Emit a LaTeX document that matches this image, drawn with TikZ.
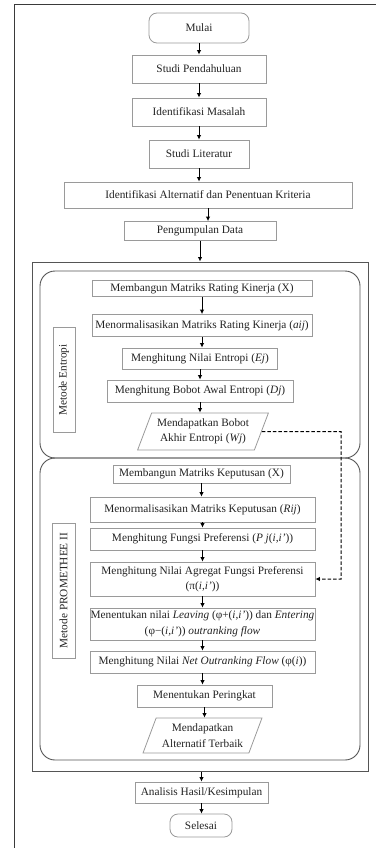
\documentclass[tikz,border=0pt]{standalone}
\usepackage{fontspec}
\setmainfont{Liberation Serif}
\usetikzlibrary{arrows.meta,shapes.geometric}
\definecolor{txt}{HTML}{222222}
\definecolor{boxline}{HTML}{9A9A9A}
\definecolor{frameline}{HTML}{3A3A3A}
\definecolor{contline}{HTML}{555555}
\begin{document}
\begin{tikzpicture}[x=1pt,y=-1pt,
  every node/.style={font=\fontsize{11.3}{15.5}\selectfont, text=txt},
  box/.style={draw=boxline, line width=0.8pt, inner sep=0pt, align=center, anchor=center},
  term/.style={box, rounded corners=8pt},
  para/.style={draw=boxline, line width=0.8pt, trapezium, trapezium left angle=64, trapezium right angle=116,
     trapezium stretches=true, inner sep=0pt, align=center},
  cont/.style={draw=contline, line width=0.9pt, rounded corners=15pt, inner sep=0pt},
  lbl/.style={box, rotate=90},
  arr/.style={draw=black, line width=1pt, -{Latex[length=4.5pt,width=4.5pt]}},
  darr/.style={draw=black, line width=1pt, dash pattern=on 3.5pt off 2pt, -{Latex[length=4.5pt,width=4.5pt]}}
]
\useasboundingbox (0,0) rectangle (376,848);
% outer frame
\draw[frameline, line width=1pt] (14.5,848) -- (14.5,5) -- (376,5);

% method area
\node[draw=contline, line width=1pt, minimum width=336pt, minimum height=509pt, inner sep=0pt] (big) at (200,516.5) {};
\node[cont, minimum width=320pt, minimum height=187pt] (cE) at (200,364.5) {};
\node[cont, minimum width=320pt, minimum height=302pt] (cP) at (200,609) {};

% main flow
\node[term, minimum width=100pt, minimum height=30pt] (mulai) at (199,28) {Mulai};
\node[box, minimum width=134pt, minimum height=28pt] (pend) at (199,69) {Studi Pendahuluan};
\node[box, minimum width=134pt, minimum height=28pt] (mas) at (199,112) {Identifikasi Masalah};
\node[box, minimum width=100pt, minimum height=28pt] (lit) at (199,154) {Studi Literatur};
\node[box, minimum width=288pt, minimum height=26pt] (alt) at (208,195) {Identifikasi Alternatif dan Penentuan Kriteria};
\node[box, minimum width=152pt, minimum height=19pt] (data) at (200,231) {Pengumpulan Data};

% entropy
\node[box, minimum width=220pt, minimum height=16pt] (e1) at (202,288.5) {Membangun Matriks Rating Kinerja (X)};
\node[box, minimum width=220pt, minimum height=22pt] (e2) at (202,325.5) {Menormalisasikan Matriks Rating Kinerja (\textit{aij})};
\node[box, minimum width=155pt, minimum height=21pt] (e3) at (200,358.5) {Menghitung Nilai Entropi (\textit{Ej})};
\node[box, minimum width=186pt, minimum height=22pt] (e4) at (200,391) {Menghitung Bobot Awal Entropi (\textit{Dj})};
\node[para, minimum width=131pt, minimum height=37pt] (e5) at (203,431.5) {Mendapatkan Bobot\\Akhir Entropi (\textit{Wj})};
\node[lbl, minimum width=105pt, minimum height=22pt] (lE) at (64,380) {Metode Entropi};

% promethee
\node[box, minimum width=177pt, minimum height=18pt] (p1) at (201.5,474) {Membangun Matriks Keputusan (X)};
\node[box, minimum width=225pt, minimum height=25pt] (p2) at (202.5,509.5) {Menormalisasikan Matriks Keputusan (\textit{Rij})};
\node[box, minimum width=225pt, minimum height=22pt] (p3) at (202.5,539) {Menghitung Fungsi Preferensi (\textit{P j}(\textit{i,i'}))};
\node[box, minimum width=225pt, minimum height=34pt] (p4) at (202.5,579) {Menghitung Nilai Agregat Fungsi Preferensi\\(π(\textit{i,i'}))};
\node[box, minimum width=225pt, minimum height=32pt] (p5) at (202.5,624) {Menentukan nilai \textit{Leaving} (φ+(\textit{i,i'})) dan \textit{Entering}\\(φ−(\textit{i,i'})) \textit{outranking flow}};
\node[box, minimum width=225pt, minimum height=22pt] (p6) at (202.5,662) {Menghitung Nilai \textit{Net Outranking Flow} (φ(\textit{i}))};
\node[box, minimum width=135pt, minimum height=22pt] (p7) at (204.5,696) {Menentukan Peringkat};
\node[para, minimum width=119pt, minimum height=35pt] (p8) at (202.5,735.5) {Mendapatkan\\Alternatif Terbaik};
\node[lbl, minimum width=135pt, minimum height=23pt] (lP) at (63.5,590.5) {Metode PROMETHEE II};

% end
\node[box, minimum width=133pt, minimum height=21pt] (an) at (201.5,792.5) {Analisis Hasil/Kesimpulan};
\node[term, minimum width=62pt, minimum height=23pt] (sel) at (201,825.5) {Selesai};

% arrows
\foreach \a/\b in {mulai/pend, pend/mas, mas/lit, lit/alt, alt/data, data/big,
                   e1/e2, e2/e3, e3/e4, e4/e5,
                   p1/p2, p2/p3, p3/p4, p4/p5, p5/p6, p6/p7, p7/p8, an/sel}
  \draw[arr] (\a.south) -- (\a.south |- \b.north);
\draw[arr] (big.south -| an.north) -- (an.north);

% dashed feedback
\coordinate (turn) at (341,431.5);
\draw[darr] (e5.east) -- (turn) |- (p4.east);
\end{tikzpicture}
\end{document}
